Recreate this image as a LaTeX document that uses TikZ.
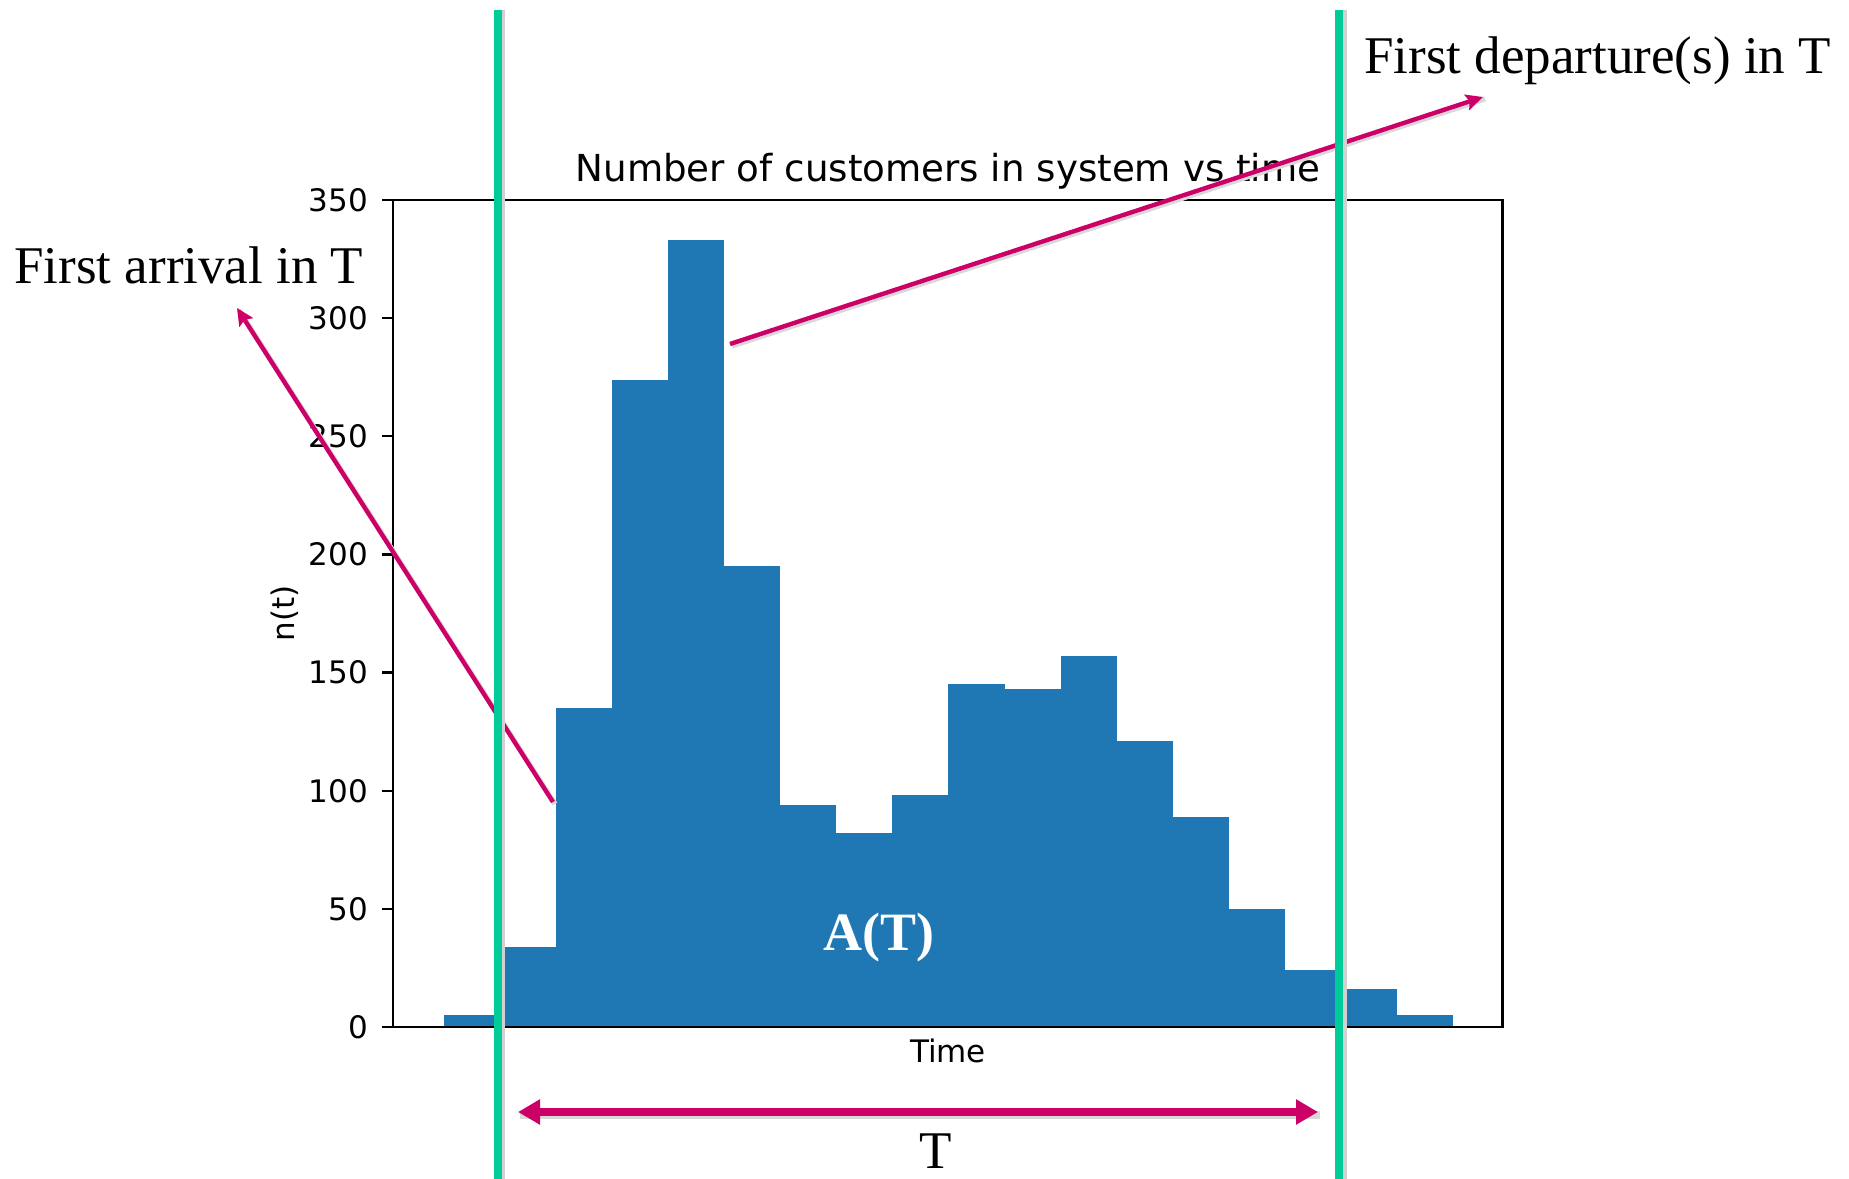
\documentclass[tikz,border=0pt]{standalone}
\usepackage{fontspec}
\setmainfont{Liberation Serif}
\newfontfamily\plotfont{DejaVu Sans}
\usetikzlibrary{arrows.meta}
\definecolor{barblue}{HTML}{1F77B4}
\definecolor{limitgreen}{RGB}{0,204,153}
\definecolor{pointer}{RGB}{204,0,102}
\begin{document}
\begin{tikzpicture}[x=0.5pt,y=-0.5pt,
  ticklabel/.style={font=\plotfont\fontsize{15.5pt}{18pt}\selectfont, inner sep=0pt},
  plottitle/.style={font=\plotfont\fontsize{18.6pt}{22pt}\selectfont, inner sep=0pt},
  callout/.style={font=\fontsize{26.5pt}{30pt}\selectfont, inner sep=0pt},
  limitline/.style={draw=limitgreen, line width=4pt},
  shadowline/.style={draw=black!18, line width=4.5pt},
  pointershadow/.style={draw=black!15, line width=2.6pt},
  pointerarrow/.style={draw=pointer, line width=2.2pt, -{Stealth[length=8.5pt,width=8pt,inset=1.5pt]}},
  spanarrow/.style={draw=pointer, line width=3.7pt, {Triangle[length=11pt,width=12pt]}-{Triangle[length=11pt,width=12pt]}},
]
\useasboundingbox (0,0) rectangle (1849,1179);

% histogram bars
\foreach \h [count=\i from 0] in {5,34,135,274,333,195,94,82,98,145,143,157,121,89,50,24,16,5}
  \fill[barblue] ({444+56.05*\i},1027) rectangle ({444+56.05*(\i+1)},{1027-2.3629*\h});

% axes frame
\draw[line width=1.1pt] (393,200) rectangle (1502.5,1027);

% y ticks and labels
\foreach \v in {0,50,...,350}{
  \draw[line width=1.1pt] (393,{1027-2.3629*\v}) -- (382,{1027-2.3629*\v})
    node[ticklabel, anchor=east, xshift=-6.5pt] (tick\v) {\v};
}

% axis labels and title
\node[ticklabel, anchor=base] (xlabel) at (948,1062) {Time};
\node[ticklabel, rotate=90] (ylabel) at (285,613) {n(t)};
\node[plottitle, anchor=base] (title) at (948,181) {Number of customers in system vs time};

% annotation texts
\node[callout, anchor=base west] (arrival) at (14,283) {First arrival in T};
\node[callout, anchor=base west] (departure) at (1364,73) {First departure(s) in T};
\node[callout, anchor=base, text=white, font=\bfseries\fontsize{27pt}{30pt}\selectfont] (area) at (879,950) {A(T)};
\node[callout, anchor=base] (span) at (936,1168) {T};

% pointer arrows
\coordinate (arrivalfoot) at (553,802);
\coordinate (arrivaltip) at (237,308);
\coordinate (departurefoot) at (730,344);
\coordinate (departuretip) at (1483,97);
\coordinate (spanleft) at (518,1112);
\coordinate (spanright) at (1318,1112);

\draw[pointershadow] ([shift={(2,2)}]arrivalfoot) -- ([shift={(2,2)}]arrivaltip);
\draw[pointershadow] ([shift={(2,2)}]departurefoot) -- ([shift={(2,2)}]departuretip);
\draw[draw=black!15, line width=3.7pt] ([shift={(2,3)}]spanleft) -- ([shift={(2,3)}]spanright);
\draw[pointerarrow] (arrivalfoot) -- (arrivaltip);
\draw[pointerarrow] (departurefoot) -- (departuretip);
\draw[spanarrow] (spanleft) -- (spanright);

% window limits
\coordinate (leftlimtop) at (497.5,10);
\coordinate (leftlimbot) at (497.5,1179);
\coordinate (rightlimtop) at (1339,10);
\coordinate (rightlimbot) at (1339,1179);
\draw[shadowline] ([xshift=1.5pt]leftlimtop) -- ([xshift=1.5pt]leftlimbot);
\draw[shadowline] ([xshift=1.5pt]rightlimtop) -- ([xshift=1.5pt]rightlimbot);
\draw[limitline] (leftlimtop) -- (leftlimbot);
\draw[limitline] (rightlimtop) -- (rightlimbot);
\end{tikzpicture}
\end{document}
